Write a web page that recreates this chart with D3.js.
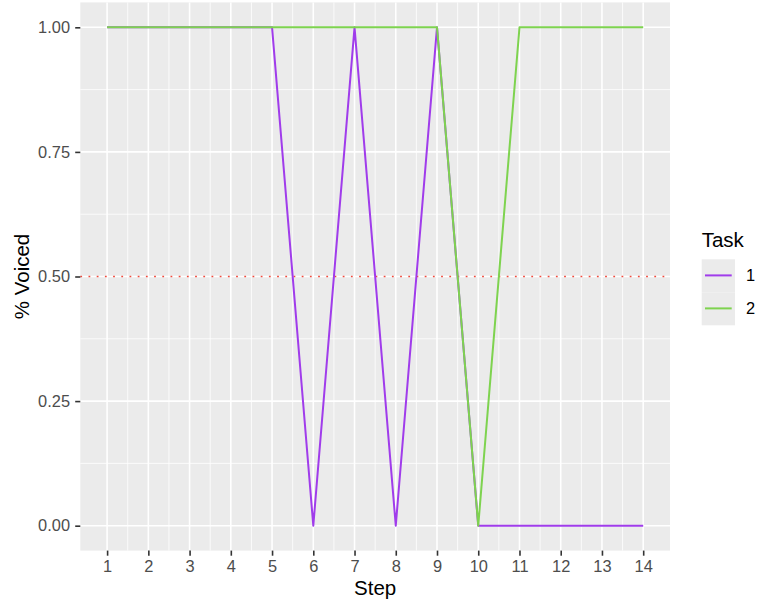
<!DOCTYPE html>
<html>
<head>
<meta charset="utf-8">
<script src="https://cdn.jsdelivr.net/npm/d3@7"></script>
<style>
  body { margin: 0; background: #fff; }
  svg { display: block; font-family: "Liberation Sans", Arial, Helvetica, sans-serif; }
</style>
</head>
<body>
<svg id="chart" width="758" height="607"></svg>
<script>
// ---- data ----
const steps = [1, 2, 3, 4, 5, 6, 7, 8, 9, 10, 11, 12, 13, 14];
const task1 = [1, 1, 1, 1, 1, 0, 1, 0, 1, 0, 0, 0, 0, 0];
const task2 = [1, 1, 1, 1, 1, 1, 1, 1, 1, 0, 1, 1, 1, 1];
const taskNames = ["1", "2"];
const yTicks = [0, 0.25, 0.5, 0.75, 1];
const refLine = 0.5;

const colors = ["#A03CEB", "#7ED34F"];

// ---- layout ----
const svg = d3.select("#chart");
const P = { left: 80.3, right: 670, top: 2.4, bottom: 550.6 };
const tickFont = "16.4px";
const titleFont = "20.5px";

const x = d3.scaleLinear()
  .domain([1 - 0.65, 14 + 0.65])
  .range([P.left, P.right]);
const y = d3.scaleLinear()
  .domain([0 - 0.05, 1 + 0.05])
  .range([P.bottom, P.top]);

// panel background
svg.append("rect")
  .attr("x", P.left).attr("y", P.top)
  .attr("width", P.right - P.left).attr("height", P.bottom - P.top)
  .attr("fill", "#EBEBEB");

// minor grid
const minorX = d3.range(1.5, 14, 1);
const minorY = [0.125, 0.375, 0.625, 0.875];
svg.append("g").selectAll("line").data(minorX).join("line")
  .attr("x1", d => x(d)).attr("x2", d => x(d))
  .attr("y1", P.top).attr("y2", P.bottom)
  .attr("stroke", "#fff").attr("stroke-width", 0.8);
svg.append("g").selectAll("line").data(minorY).join("line")
  .attr("y1", d => y(d)).attr("y2", d => y(d))
  .attr("x1", P.left).attr("x2", P.right)
  .attr("stroke", "#fff").attr("stroke-width", 0.8);

// major grid
svg.append("g").selectAll("line").data(steps).join("line")
  .attr("x1", d => x(d)).attr("x2", d => x(d))
  .attr("y1", P.top).attr("y2", P.bottom)
  .attr("stroke", "#fff").attr("stroke-width", 1.6);
svg.append("g").selectAll("line").data(yTicks).join("line")
  .attr("y1", d => y(d)).attr("y2", d => y(d))
  .attr("x1", P.left).attr("x2", P.right)
  .attr("stroke", "#fff").attr("stroke-width", 1.6);

// reference line
svg.append("line")
  .attr("x1", P.left).attr("x2", P.right)
  .attr("y1", y(refLine)).attr("y2", y(refLine))
  .attr("stroke", "#F04A3C").attr("stroke-width", 1.6)
  .attr("stroke-dasharray", "1.8,6.4");

// lines
const line = d3.line().x(d => x(d[0])).y(d => y(d[1]));
[task1, task2].forEach((vals, i) => {
  svg.append("path")
    .datum(steps.map((s, j) => [s, vals[j]]))
    .attr("d", line)
    .attr("fill", "none")
    .attr("stroke", colors[i])
    .attr("stroke-width", 2)
    .attr("stroke-linejoin", "round");
});

// axes
const xAxis = d3.axisBottom(x).tickValues(steps).tickSize(5.1).tickPadding(5);
const gx = svg.append("g").attr("transform", `translate(0,${P.bottom})`).call(xAxis);
gx.attr("font-size", tickFont).attr("font-family", null);
gx.select(".domain").remove();
gx.selectAll(".tick line").attr("stroke", "#333").attr("stroke-width", 1.6);
gx.selectAll(".tick text").attr("fill", "#4D4D4D");

const yAxis = d3.axisLeft(y).tickValues(yTicks).tickFormat(d3.format(".2f")).tickSize(5.1).tickPadding(5.2);
const gy = svg.append("g").attr("transform", `translate(${P.left},0)`).call(yAxis);
gy.attr("font-size", tickFont).attr("font-family", null);
gy.select(".domain").remove();
gy.selectAll(".tick line").attr("stroke", "#333").attr("stroke-width", 1.6);
gy.selectAll(".tick text").attr("fill", "#4D4D4D");

// axis titles
svg.append("text")
  .attr("x", (P.left + P.right) / 2).attr("y", 595)
  .attr("text-anchor", "middle").attr("font-size", titleFont).attr("fill", "#000")
  .text("Step");
svg.append("text")
  .attr("transform", `translate(29,${(P.top + P.bottom) / 2}) rotate(-90)`)
  .attr("text-anchor", "middle").attr("font-size", titleFont).attr("fill", "#000")
  .text("% Voiced");

// legend
const lg = svg.append("g");
lg.append("text").attr("x", 701.7).attr("y", 247)
  .attr("font-size", titleFont).attr("fill", "#000").text("Task");
taskNames.forEach((name, i) => {
  const ky = 259.3 + i * 33;
  lg.append("rect").attr("x", 701.7).attr("y", ky).attr("width", 33.3).attr("height", 33)
    .attr("fill", "#EBEBEB");
  lg.append("line").attr("x1", 705).attr("x2", 731.7)
    .attr("y1", ky + 16.1).attr("y2", ky + 16.1)
    .attr("stroke", colors[i]).attr("stroke-width", 2);
  lg.append("text").attr("x", 746).attr("y", ky + 16.1).attr("dy", "0.36em")
    .attr("font-size", tickFont).attr("fill", "#000").text(name);
});
</script>
</body>
</html>
